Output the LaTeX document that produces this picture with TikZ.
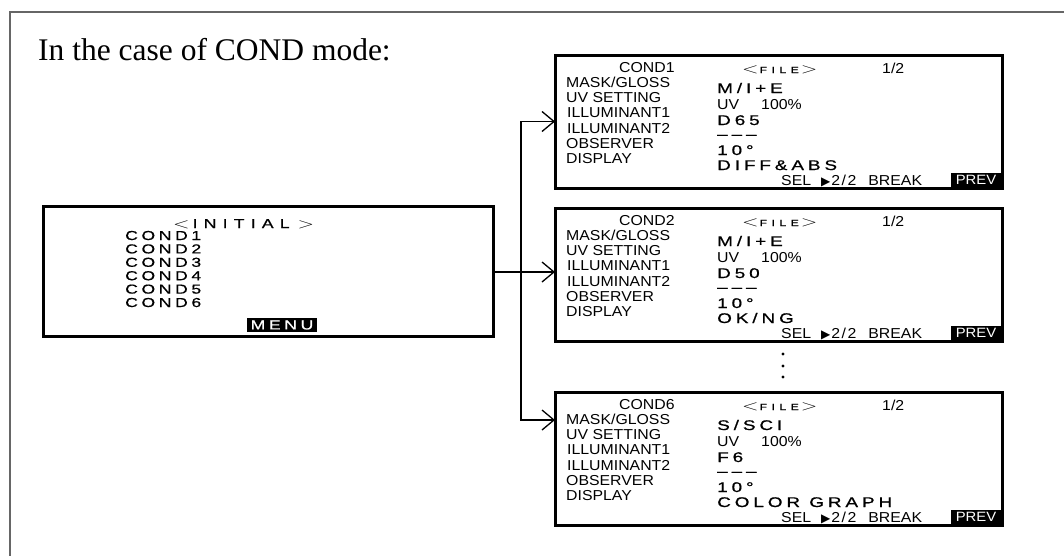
\documentclass[tikz,border=0pt]{standalone}
\usepackage{fontspec}
\usepackage{graphicx}
\setmainfont{Liberation Serif}
\newfontfamily\labfont[FakeStretch=1.1]{Liberation Sans}
\newfontfamily\valfont[FakeStretch=1.35,FakeBold=0.8,LetterSpace=28]{Liberation Sans}
\newfontfamily\symfont{DejaVu Sans}
\usetikzlibrary{arrows.meta}
\newcommand\ltbr{\scalebox{1.25}[0.85]{\fontsize{17}{17}\selectfont$<$}}
\newcommand\gtbr{\scalebox{1.25}[0.85]{\fontsize{17}{17}\selectfont$>$}}
\tikzset{
  lab/.style={anchor=base west, inner sep=0pt, font=\labfont\fontsize{14.4}{14.4}\selectfont},
  val/.style={anchor=base west, inner sep=0pt, font=\valfont\fontsize{14}{14}\selectfont},
  ival/.style={anchor=base west, inner sep=0pt, font=\valfont\fontsize{13}{13}\selectfont},
  screenbox/.style={draw, line width=3pt, minimum width=447pt, minimum height=133pt, inner sep=0pt, outer sep=0pt},
  initbox/.style={draw, line width=3pt, minimum width=450pt, minimum height=130pt, inner sep=0pt, outer sep=0pt},
  conn/.style={line width=1.3pt, -{Straight Barb[length=12pt,width=20pt,line width=1.3pt]}},
  inv/.style={fill=black, text=white, inner sep=0pt, outer sep=0pt},
  frameline/.style={draw=black!60, line width=2pt},
  title/.style={anchor=base west, inner sep=0pt, font=\fontsize{31.5}{31.5}\selectfont},
}
\newcommand\condscreen[6]{%
  \node[screenbox] (#1) at (778.5,{#2+66.5}) {};
  \node[lab] (#1-cond) at (619,{#2+17}) {#3};
  \node[lab] (#1-file) at (742,{#2+18}) {\ltbr\hspace{1pt}{\valfont\fontsize{9}{9}\selectfont\addfontfeature{LetterSpace=50}FILE}\hspace{2pt}\gtbr};
  \node[lab] (#1-page) at (882,{#2+18}) {1/2};
  \node[lab] (#1-l1) at (566,{#2+32.3}) {MASK/GLOSS};
  \node[lab] (#1-l2) at (566,{#2+47.6}) {UV SETTING};
  \node[lab] (#1-l3) at (567,{#2+62.9}) {ILLUMINANT1};
  \node[lab] (#1-l4) at (567,{#2+78.2}) {ILLUMINANT2};
  \node[lab] (#1-l5) at (566,{#2+93.5}) {OBSERVER};
  \node[lab] (#1-l6) at (566,{#2+108.8}) {DISPLAY};
  \node[val] (#1-v1) at (717,{#2+38}) {#4};
  \node[lab] (#1-v2) at (717,{#2+54}) {UV\hspace{22pt}100\%};
  \node[val] (#1-v3) at (717,{#2+70}) {#5};
  \node[val] (#1-v4) at (717,{#2+84}) {–––};
  \node[val] (#1-v5) at (717,{#2+100}) {10°};
  \node[val] (#1-v6) at (717,{#2+115}) {#6};
  \node[lab] (#1-sel) at (781,{#2+130}) {SEL\hspace{10pt}{\symfont\fontsize{12}{12}\selectfont ▶}\hspace{1pt}2\hspace{1.5pt}/\hspace{1.5pt}2\hspace{12pt}BREAK};
  \node[inv, minimum width=50pt, minimum height=14.5pt, font=\labfont\fontsize{13.5}{13.5}\selectfont] (#1-prev) at (976,{#2+125}) {PREV};
}
\begin{document}
\begin{tikzpicture}[x=1pt,y=-1pt]
\useasboundingbox (0,0) rectangle (1064,555);
\draw[frameline] (10,556) -- (10,12) -- (1064,12);
\node[title] (ttl) at (38,60) {In the case of COND mode:};
% initial screen
\node[initbox] (init) at (268,271) {};
\node[lab] (init-t) at (173,228) {\ltbr\hspace{3pt}{\valfont\fontsize{13}{13}\selectfont\addfontfeature{LetterSpace=48}INITIAL}\hspace{8pt}\gtbr};
\foreach \k in {1,...,6}{
  \node[ival] (init-c\k) at (125,{240+13.4*(\k-1)}) {COND\k};
}
\node[inv, minimum width=70pt, minimum height=14pt, font=\valfont\fontsize{13}{13}\selectfont] (menu) at (282,325) {MENU};
% right screens
\condscreen{b1}{55}{COND1}{M/I+E}{D65}{DIFF\&ABS}
\condscreen{b2}{208}{COND2}{M/I+E}{D50}{OK/NG}
\condscreen{b3}{392}{COND6}{S/SCI}{F6}{COLOR GRAPH}
% dots
\fill (783,354) circle (1.6);
\fill (783,366) circle (1.6);
\fill (783,377) circle (1.6);
% connectors
\coordinate (j) at (521,272);
\coordinate (b3in) at (555,420);
\draw[conn] (init.east |- j) -- (b2.west |- j);
\draw[conn] (j) |- (b1.west);
\draw[conn] (j) |- (b3in);
\end{tikzpicture}
\end{document}
